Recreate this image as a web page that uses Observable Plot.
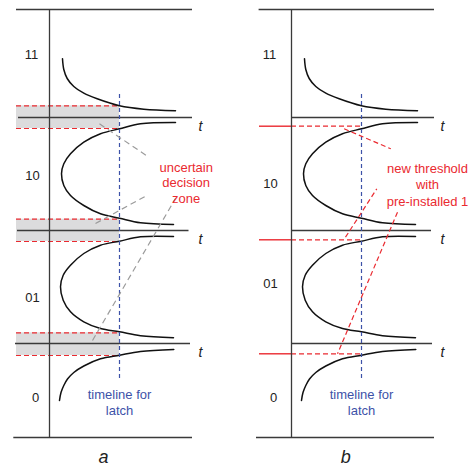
<!DOCTYPE html>
<html><head><meta charset="utf-8">
<script src="https://cdn.jsdelivr.net/npm/d3@7"></script>
<script src="https://cdn.jsdelivr.net/npm/@observablehq/plot@0.6"></script>
<style>
body{margin:0;background:#fff}
#wrap{display:flex;width:468px;height:466px;overflow:hidden}
</style>
</head><body><div id="wrap"></div>
<script>
// ---- data (t = time units from the vertical axis, v = voltage units from the bottom line) ----
const levelLabels = ["11", "10", "01", "0"];
const levelTA = [-18, -17, -17, -14];
const levelVA = [383, 262, 140, 40];
const levelTB = [-22, -21, -21, -18];
const levelVB = [383, 254, 154, 40];

const boundaryV = [320, 207, 94];
const boundaryStartA = [-31, -32, -34];
const boundaryEndA = [143, 139.5, 141];
const boundaryStartB = [0, 0, 0];
const boundaryEndB = [143, 140, 141];
const tLabelT = 151;

const frameTopV = 428;
const frameBottomV = 0;
const frameStartA = [-33, -35.7];   // top, bottom
const frameStartB = [-32.4, -35];
const frameEnd = 143;

// curves (t, v)
const curve11 = [[13,378.7],[14.3,368],[17.7,359],[24.3,351],[34.3,344.3],[47.7,338.7],[70,331.7],[94.3,328.3],[126,326.7]];
const curve10 = [[126,315],[91,313.7],[70,308.7],[51,303.7],[34.3,295.3],[21,283.7],[14.3,273.7],[12,263.7],[14.3,252],[21,242],[34.3,232],[51,223.7],[70,219.3],[91,214.7],[124,213]];
const curve01 = [[124,201],[91,200.7],[70,196.3],[51,192.3],[34.3,184],[21,172.3],[13.7,162.3],[11,150.7],[13.7,137.3],[21,125.7],[34.3,115.7],[51,109],[70,105.7],[91,101.7],[124,99.7]];
const curve0 = [[124.3,88],[91,86],[70,82.3],[51,78.7],[34.3,71.5],[24.3,65],[18,58.5],[14.3,52],[11.5,45],[10,37]];

// panel a: uncertain decision bands
const bandTop = [331.7, 218.3, 104.7];
const bandBottom = [309, 196, 82];
const bandStart = -33;
const latchT = 70;
const latchTop = 344, latchBottom = 59;

// panel a: grey pointer lines
const greyX1 = [50, 46, 43], greyY1 = [313.7, 214, 97];
const greyX2 = [99.3, 96, 126], greyY2 = [280.3, 241.3, 239];

// panel b: new thresholds
const newThrV = [311.3, 197.7, 83.7];
const newThrStart = -32;
const redX1 = [52.6, 54, 106], redY1 = [308.7, 200.3, 225.3];
const redX2 = [99.3, 85.3, 46], redY2 = [288.7, 248.7, 83.7];

const RED = "#ea2a30", BLUE = "#3d52a8", GREY = "#9b9b9b", SHADE = "#dcdcdd", AX = "#3a3a3a";

const curves = [["c11", curve11], ["c10", curve10], ["c01", curve01], ["c0", curve0]]
  .flatMap(([id, pts]) => pts.map(([t, v]) => ({id, t, v})));

function baseMarks(levelT, levelV, bStart, bEnd, fStart, caption, captionT) {
  const levels = levelLabels.map((label, i) => ({label, t: levelT[i], v: levelV[i]}));
  const bounds = boundaryV.map((v, i) => ({v, x1: bStart[i], x2: bEnd[i]}));
  const frame = [{v: frameTopV, x1: fStart[0], x2: frameEnd}, {v: frameBottomV, x1: fStart[1], x2: frameEnd}];
  return [
    Plot.ruleY(frame, {y: "v", x1: "x1", x2: "x2", stroke: AX, strokeWidth: 1.3}),
    Plot.ruleX([0], {y1: frameBottomV, y2: frameTopV, stroke: AX, strokeWidth: 1.3}),
    Plot.ruleY(bounds, {y: "v", x1: "x1", x2: "x2", stroke: AX, strokeWidth: 1.3}),
    Plot.line(curves, {x: "t", y: "v", z: "id", curve: "catmull-rom", stroke: "#111", strokeWidth: 1.5}),
    Plot.ruleX([latchT], {y1: latchBottom, y2: latchTop, stroke: BLUE, strokeWidth: 1.2, strokeDasharray: "4,3"}),
    Plot.text(levels, {x: "t", y: "v", text: "label", fontSize: 13, fill: "#222"}),
    Plot.text(boundaryV, {x: tLabelT, y: (d) => d - 9, text: () => "t", fontSize: 14, fontStyle: "italic", fill: "#222"}),
    Plot.text(["timeline for\nlatch"], {x: latchT, y: 36, text: (d) => d, fontSize: 13, lineHeight: 1.23, fill: BLUE}),
    Plot.text([caption], {x: captionT, y: -20, text: (d) => d, fontSize: 18, fontStyle: "italic", fill: "#222"})
  ];
}

// Panel a
const bands = bandTop.map((top, i) => ({top, bottom: bandBottom[i]}));
const redDash = bandTop.concat(bandBottom);
const greys = greyX1.map((x, i) => ({x1: x, y1: greyY1[i], x2: greyX2[i], y2: greyY2[i]}));
const plotA = Plot.plot({
  width: 242, height: 466, margin: 0,
  x: {domain: [-49, 193], range: [0, 242], axis: null},
  y: {domain: [-29, 437], range: [466, 0], axis: null},
  style: {fontFamily: "'Liberation Sans', Arial, sans-serif", background: "white"},
  marks: [
    Plot.rect(bands, {x1: bandStart, x2: latchT, y1: "bottom", y2: "top", fill: SHADE}),
    Plot.ruleY(redDash, {x1: bandStart, x2: latchT, stroke: RED, strokeWidth: 1.2, strokeDasharray: "5,3"}),
    ...baseMarks(levelTA, levelVA, boundaryStartA, boundaryEndA, frameStartA, "a", 54),
    Plot.link(greys, {x1: "x1", y1: "y1", x2: "x2", y2: "y2", stroke: GREY, strokeWidth: 1.2, strokeDasharray: "6,4"}),
    Plot.text(["uncertain\ndecision\nzone"], {x: 136.7, y: 255.3, text: (d) => d, fontSize: 13, lineHeight: 1.19, fill: RED})
  ]
});

// Panel b
const reds = redX1.map((x, i) => ({x1: x, y1: redY1[i], x2: redX2[i], y2: redY2[i]}));
const plotB = Plot.plot({
  width: 226, height: 466, margin: 0,
  x: {domain: [-49, 177], range: [0, 226], axis: null},
  y: {domain: [-29, 437], range: [466, 0], axis: null},
  style: {fontFamily: "'Liberation Sans', Arial, sans-serif", background: "white"},
  marks: [
    Plot.ruleY(newThrV, {x1: newThrStart, x2: 0, stroke: RED, strokeWidth: 1.4}),
    Plot.ruleY(newThrV, {x1: 0, x2: latchT, stroke: RED, strokeWidth: 1.2, strokeDasharray: "5,3"}),
    ...baseMarks(levelTB, levelVB, boundaryStartB, boundaryEndB, frameStartB, "b", 54.3),
    Plot.link(reds, {x1: "x1", y1: "y1", x2: "x2", y2: "y2", stroke: RED, strokeWidth: 1.2, strokeDasharray: "5,3"}),
    Plot.text(["new threshold\nwith\npre-installed 1"], {x: 136, y: 253.7, text: (d) => d, fontSize: 13, lineHeight: 1.27, fill: RED})
  ]
});

const wrap = document.getElementById("wrap");
wrap.appendChild(plotA);
wrap.appendChild(plotB);
</script></body></html>
